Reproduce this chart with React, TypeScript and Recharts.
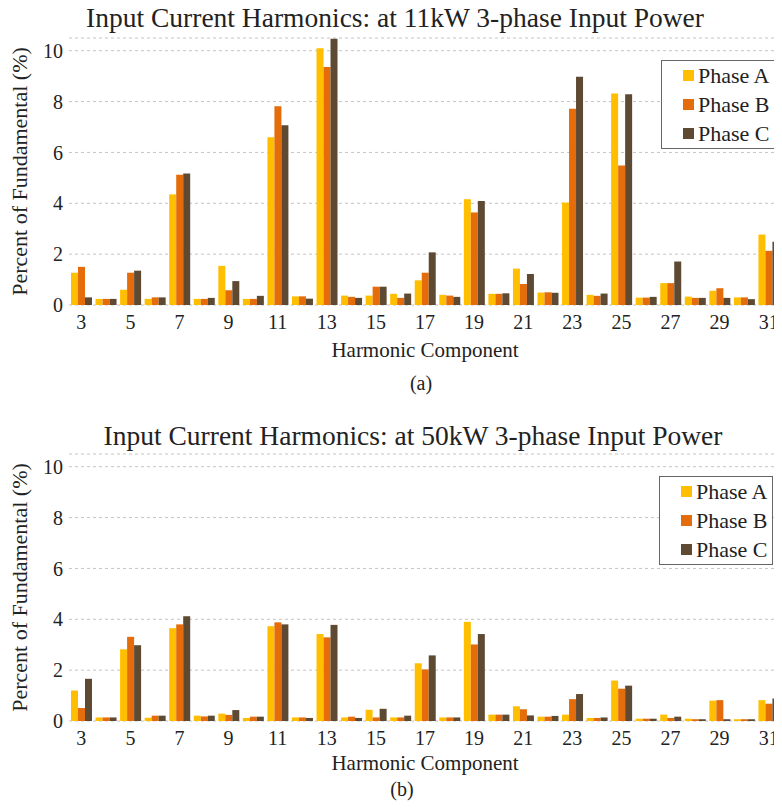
import React from "react";
import { Bar, BarChart, CartesianGrid, Legend, XAxis, YAxis } from "recharts";

const harmonics = [3, 4, 5, 6, 7, 8, 9, 10, 11, 12, 13, 14, 15, 16, 17, 18, 19, 20, 21, 22, 23, 24, 25, 26, 27, 28, 29, 30, 31];
const yTicks = [0, 2, 4, 6, 8, 10];

// 11kW input power
const phaseA11 = [1.27, 0.24, 0.6, 0.24, 4.35, 0.24, 1.54, 0.24, 6.6, 0.34, 10.1, 0.37, 0.37, 0.44, 0.97, 0.4, 4.16, 0.44, 1.43, 0.49, 4.03, 0.4, 8.32, 0.29, 0.86, 0.33, 0.56, 0.3, 2.77];
const phaseB11 = [1.5, 0.24, 1.27, 0.3, 5.12, 0.24, 0.58, 0.24, 7.82, 0.34, 9.36, 0.32, 0.72, 0.28, 1.27, 0.37, 3.64, 0.44, 0.83, 0.5, 7.72, 0.36, 5.49, 0.29, 0.86, 0.28, 0.66, 0.3, 2.13];
const phaseC11 = [0.3, 0.24, 1.35, 0.3, 5.17, 0.28, 0.94, 0.36, 7.07, 0.25, 10.47, 0.28, 0.72, 0.45, 2.07, 0.32, 4.09, 0.46, 1.22, 0.48, 8.98, 0.45, 8.29, 0.32, 1.71, 0.28, 0.28, 0.23, 2.49];

// 50kW input power
const phaseA50 = [1.2, 0.14, 2.82, 0.13, 3.65, 0.21, 0.29, 0.12, 3.73, 0.14, 3.42, 0.14, 0.44, 0.14, 2.27, 0.14, 3.9, 0.25, 0.58, 0.17, 0.25, 0.12, 1.59, 0.09, 0.25, 0.09, 0.8, 0.07, 0.82];
const phaseB50 = [0.51, 0.14, 3.31, 0.21, 3.8, 0.18, 0.24, 0.17, 3.88, 0.14, 3.29, 0.17, 0.14, 0.14, 2.03, 0.14, 3.01, 0.25, 0.46, 0.17, 0.86, 0.12, 1.27, 0.09, 0.12, 0.07, 0.82, 0.07, 0.68];
const phaseC50 = [1.66, 0.14, 2.98, 0.21, 4.12, 0.21, 0.43, 0.17, 3.8, 0.12, 3.78, 0.12, 0.48, 0.21, 2.58, 0.14, 3.42, 0.25, 0.22, 0.2, 1.06, 0.14, 1.39, 0.09, 0.17, 0.07, 0.07, 0.07, 0.88];

const FONT = "'Liberation Serif', 'DejaVu Serif', 'Noto Serif', serif";
const COLORS = { a: "#ffbf00", b: "#e46c0a", c: "#5e4a33" };

function buildRows(a: number[], b: number[], c: number[]) {
  return harmonics.map((h, i) => ({ h, a: a[i], b: b[i], c: c[i] }));
}

function PhaseLegend(props: any) {
  const items = props.payload ?? [];
  return (
    <div style={{ border: "1px solid #666", background: "#fff", width: 112, fontFamily: FONT, fontSize: 22, color: "#222" }}>
      {items.map((item: any) => (
        <div key={item.value} style={{ height: 29, display: "flex", alignItems: "center", paddingLeft: 21 }}>
          <span style={{ width: 11, height: 11, background: item.color, marginRight: 4, display: "inline-block" }} />
          <span style={{ lineHeight: 1, whiteSpace: "nowrap" }}>{item.value}</span>
        </div>
      ))}
    </div>
  );
}

type PanelProps = {
  top: number;
  height: number;
  marginTop: number;
  rows: ReturnType<typeof buildRows>;
  legendTop: number;
  legendLeft: number;
  xLabelOffset: number;
};

function Panel({ top, height, marginTop, rows, legendTop, legendLeft, xLabelOffset }: PanelProps) {
  return (
    <div style={{ position: "absolute", left: 0, top }}>
      <BarChart width={773} height={height} data={rows} margin={{ top: marginTop, right: 0, bottom: 0, left: 0 }} barCategoryGap={2} barGap={0}>
        <CartesianGrid vertical={false} stroke="#c4c4c4" strokeDasharray="3 3" />
        <XAxis
          dataKey="h"
          interval={1}
          axisLine={false}
          tickLine={false}
          tickSize={0}
          tickMargin={10}
          height={58}
          tick={{ fontFamily: FONT, fontSize: 20, fill: "#222" }}
          label={{ value: "Harmonic Component", position: "insideBottom", offset: xLabelOffset, fontFamily: FONT, fontSize: 21, fill: "#222" }}
        />
        <YAxis
          width={61}
          domain={[0, 10.5]}
          ticks={yTicks}
          allowDataOverflow
          axisLine={false}
          tickLine={false}
          tickSize={0}
          tickMargin={6}
          tick={{ fontFamily: FONT, fontSize: 20, fill: "#222" }}
          label={{ value: "Percent of Fundamental (%)", angle: -90, position: "insideLeft", offset: 11, textAnchor: "middle", fontFamily: FONT, fontSize: 22, fill: "#222" }}
        />
        <Legend
          layout="vertical"
          align="center"
          verticalAlign="middle"
          content={<PhaseLegend />}
          wrapperStyle={{ top: legendTop, left: legendLeft, width: 114 }}
        />
        <Bar dataKey="a" name="Phase A" fill={COLORS.a} isAnimationActive={false} />
        <Bar dataKey="b" name="Phase B" fill={COLORS.b} isAnimationActive={false} />
        <Bar dataKey="c" name="Phase C" fill={COLORS.c} isAnimationActive={false} />
      </BarChart>
    </div>
  );
}

function Caption({ x, y, size, children }: { x: number; y: number; size: number; children: React.ReactNode }) {
  return (
    <div
      style={{
        position: "absolute",
        left: x,
        top: y,
        transform: "translate(-50%, -50%)",
        fontFamily: FONT,
        fontSize: size,
        lineHeight: 1,
        whiteSpace: "nowrap",
        color: "#222",
      }}
    >
      {children}
    </div>
  );
}

export default function App() {
  // negative margins collapse with the body margins, so y values here are page y
  return (
    <div style={{ position: "relative", marginTop: -8, marginBottom: -8, width: 774, height: 810, background: "#fff" }}>
      <Panel top={8} height={355} marginTop={30} rows={buildRows(phaseA11, phaseB11, phaseC11)} legendTop={52} legendLeft={653} xLabelOffset={6} />
      <Panel top={420} height={359} marginTop={34} rows={buildRows(phaseA50, phaseB50, phaseC50)} legendTop={56} legendLeft={651} xLabelOffset={9} />
      <Caption x={387} y={18} size={27.5}>Input Current Harmonics: at 11kW 3-phase Input Power</Caption>
      <Caption x={413} y={383} size={20}>(a)</Caption>
      <Caption x={405} y={436} size={27.5}>Input Current Harmonics: at 50kW 3-phase Input Power</Caption>
      <Caption x={394} y={789} size={20}>(b)</Caption>
    </div>
  );
}
